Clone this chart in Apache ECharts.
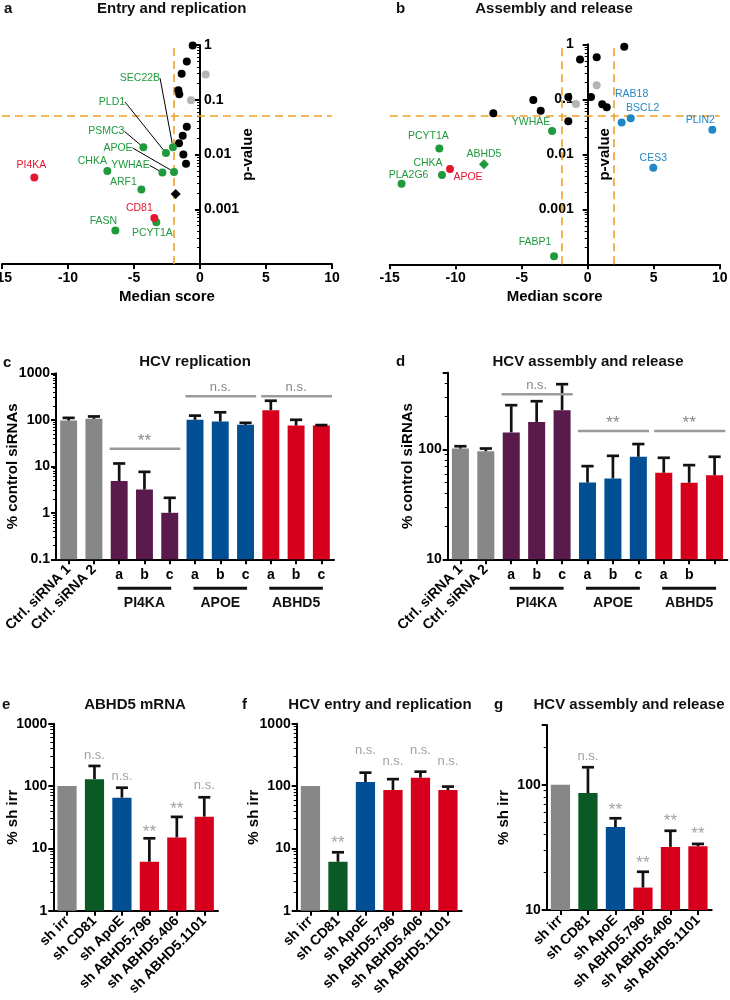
<!DOCTYPE html>
<html><head><meta charset="utf-8">
<script src="https://cdn.jsdelivr.net/npm/echarts@6/dist/echarts.min.js"></script>
<style>html,body{margin:0;padding:0;background:#fff}#chart{width:730px;height:1000px}</style>
</head><body><div id="chart"></div>
<script>
// ================= DATA =================
// Panel a: Entry and replication (median score vs p-value)
const aBlackX = [-0.55, -1.0, -1.39, -1.64, -1.57, -1.0, -1.31, -1.59, -1.26, -1.06];
const aBlackP = [0.98, 0.5, 0.30, 0.149, 0.126, 0.032, 0.022, 0.016, 0.010, 0.0068];
const aGrayX = [0.43, -0.68];
const aGrayP = [0.29, 0.098];
const aDiamondX = [-1.84];
const aDiamondP = [0.0019];
const aGreenGenes = ['SEC22B', 'PLD1', 'PSMC3', 'APOE', 'YWHAE', 'CHKA', 'ARF1', 'PCYT1A', 'FASN'];
const aGreenX = [-2.05, -2.58, -4.29, -1.97, -2.85, -7.02, -4.44, -3.31, -6.41];
const aGreenP = [0.0136, 0.0106, 0.0135, 0.0048, 0.0047, 0.0050, 0.0023, 0.00058, 0.00041];
const aRedGenes = ['PI4KA', 'CD81'];
const aRedX = [-12.55, -3.46];
const aRedP = [0.0038, 0.00069];
const scoreCutA = [-2];

// Panel b: Assembly and release
const bBlackX = [2.77, -0.58, 0.68, -4.12, -3.56, -7.15, -1.47, 0.25, 1.1, 1.44, -1.47];
const bBlackP = [0.9, 0.53, 0.58, 0.097, 0.062, 0.056, 0.11, 0.11, 0.081, 0.072, 0.04];
const bGrayX = [0.68, -0.89];
const bGrayP = [0.18, 0.082];
const bBlueGenes = ['RAB18', 'BSCL2', 'PLIN2', 'CES3'];
const bBlueX = [2.57, 3.26, 9.44, 4.97];
const bBlueP = [0.038, 0.045, 0.028, 0.0057];
const bGreenGenes = ['YWHAE', 'PCYT1A', 'CHKA', 'PLA2G6', 'FABP1'];
const bGreenX = [-2.7, -11.24, -11.04, -14.1, -2.55];
const bGreenP = [0.0265, 0.0128, 0.0042, 0.0029, 0.00014];
const bGreenDiamondGenes = ['ABHD5'];
const bGreenDiamondX = [-7.86];
const bGreenDiamondP = [0.0066];
const bRedGenes = ['APOE'];
const bRedX = [-10.43];
const bRedP = [0.0054];
const scoreCutB = [-2, 2];
const pCut = 0.05;

// Panel c: HCV replication (% control siRNAs)
const siCats = ['Ctrl. siRNA 1', 'Ctrl. siRNA 2', 'PI4KA a', 'PI4KA b', 'PI4KA c', 'APOE a', 'APOE b', 'APOE c', 'ABHD5 a', 'ABHD5 b', 'ABHD5 c'];
const cTickLabels = ['Ctrl. siRNA 1', 'Ctrl. siRNA 2', 'a', 'b', 'c', 'a', 'b', 'c', 'a', 'b', 'c'];
const cValues = [96.6, 105, 4.8, 3.17, 1.0, 100, 92, 78, 161, 75, 75];
const cErrTop = [110, 118, 11.5, 7.6, 2.1, 123, 145, 86, 257, 100, 77];
const groupNames = ['PI4KA', 'APOE', 'ABHD5'];
const groupStart = [2, 5, 8];
const groupEnd = [4, 7, 10];
const cSigText = ['**', 'n.s.', 'n.s.'];
const cSigLevel = [23.8, 322, 322];

// Panel d: HCV assembly and release
const dTickLabels = ['Ctrl. siRNA 1', 'Ctrl. siRNA 2', 'a', 'b', 'c', 'a', 'b', 'c', 'a', 'b', ''];
const dValues = [102, 96.5, 143, 178, 228, 50, 54.5, 85.8, 61.3, 49.8, 58.3];
const dErrTop = [107, 102, 253, 275, 393, 70.5, 87.5, 112, 84, 72, 85.8];
const dSigText = ['n.s.', '**', '**'];
const dSigLevel = [318, 147, 147];

// Panels e-g: shRNA (% sh irr)
const shCats = ['sh irr', 'sh CD81', 'sh ApoE', 'sh ABHD5.796', 'sh ABHD5.406', 'sh ABHD5.1101'];
const eValues = [100, 129, 65, 6.1, 15, 32.3];
const eErrTop = [null, 210, 94, 14.5, 32, 66];
const eSigText = ['', 'n.s.', 'n.s.', '**', '**', 'n.s.'];
const eSigLevel = [null, 308, 144, 18.3, 42.9, 101];
const fValues = [100, 6.1, 116, 86.5, 136, 86];
const fErrTop = [null, 8.65, 164, 129, 170, 98];
const fSigText = ['', '**', 'n.s.', 'n.s.', 'n.s.', 'n.s.'];
const fSigLevel = [null, 12.2, 370, 250, 370, 250];
const gValues = [100, 85.8, 45.9, 15.1, 31.9, 32.3];
const gErrTop = [null, 138, 54, 20.2, 42.9, 33.7];
const gSigText = ['', 'n.s.', '**', '**', '**', '**'];
const gSigLevel = [null, 167, 62.8, 23.8, 50.6, 40];

// ================= STYLE =================
const FONT = '"Liberation Sans", Arial, Helvetica, sans-serif';
const GRAY = '#878787', PURPLE = '#5a1a4c', BLUE = '#034f93', RED = '#d6001c', DKGREEN = '#0b5a26';
const SC_GREEN = '#1f9a3d', SC_RED = '#e3172f', SC_BLUE = '#1f88c4', SC_LGRAY = '#b4b4b4', ORANGE = '#f0a02a';
const SIG_GRAY = '#9a9a9a';
const siColors = [GRAY, GRAY, PURPLE, PURPLE, PURPLE, BLUE, BLUE, BLUE, RED, RED, RED];
const shColors = [GRAY, DKGREEN, BLUE, RED, RED, RED];

const labelOffsetA = {SEC22B: [-33, -69], PLD1: [-54, -51], PSMC3: [-37, -16], APOE: [-56, -24], YWHAE: [-32, -7],
  CHKA: [-15, -10], ARF1: [-18, -7], PCYT1A: [-4, 11], FASN: [-12, -9], PI4KA: [-3, -12], CD81: [-15, -10]};
const leaderA = ['SEC22B', 'PLD1', 'PSMC3', 'APOE', 'YWHAE'];
const labelOffsetB = {RAB18: [10, -28], BSCL2: [12, -10], PLIN2: [-12, -10], CES3: [0, -10], YWHAE: [-21, -9],
  PCYT1A: [-11, -12], CHKA: [-14, -12], PLA2G6: [7, -9], ABHD5: [0, -10], FABP1: [-19, -14], APOE: [18, 8]};

function logFmt(hide) {
  return function (v) {
    const l = Math.log10(v);
    if (Math.abs(l - Math.round(l)) > 1e-6) return '';
    const r = Math.round(l);
    if (hide && hide.indexOf(r) >= 0) return '';
    return r >= 0 ? String(Math.pow(10, r)) : Math.pow(10, r).toFixed(-r);
  };
}
const AXLINE = {show: true, onZero: false, lineStyle: {color: '#000', width: 2}};
const AXTICK = {show: true, length: 5, lineStyle: {color: '#000', width: 2}};
const MINOR = {show: true, splitNumber: 9, length: 3, lineStyle: {color: '#000', width: 1}};
const LBL = {color: '#000', fontFamily: FONT, fontWeight: 'bold', fontSize: 14};
const NAME = {color: '#000', fontFamily: FONT, fontWeight: 'bold', fontSize: 15};

function scat(idx, xs, ps, names, color, symbol, labelColor, offsets, leaders) {
  const s = {
    type: 'scatter', xAxisIndex: idx, yAxisIndex: idx, symbol: symbol,
    symbolSize: symbol === 'diamond' ? 10 : 8, silent: true, z: 5,
    itemStyle: {color: color, opacity: 1},
    data: xs.map(function (x, i) {
      const d = {value: [x, ps[i]]};
      if (names) {
        d.name = names[i];
        if (leaders && leaders.indexOf(names[i]) >= 0) d.labelLine = {show: true, lineStyle: {color: '#000', width: 1}};
      }
      return d;
    }),
    label: names ? {show: true, position: 'inside', formatter: '{b}', color: labelColor, fontSize: 10.5, fontFamily: FONT} : {show: false},
    labelLine: {show: false, lineStyle: {color: '#000', width: 1}}
  };
  if (names) {
    s.labelLayout = function (p) { const o = offsets[p.text]; return o ? {dx: o[0], dy: o[1]} : {}; };
  }
  return s;
}
function cutLines(xCuts) {
  return {
    silent: true, symbol: ['none', 'none'], label: {show: false}, animation: false,
    lineStyle: {color: ORANGE, type: [8, 5], width: 1.6},
    emphasis: {disabled: true},
    data: xCuts.map(function (x) { return {xAxis: x}; }).concat([{yAxis: pCut}])
  };
}
function bars(xi, yi, values, colors, w) {
  return {type: 'bar', xAxisIndex: xi, yAxisIndex: yi, barWidth: w, silent: true, z: 2, animation: false,
    data: values.map(function (v, i) { return {value: v, itemStyle: {color: colors[i]}}; })};
}
function errBars(xi, yi, values, errTop, n, capRatio) {
  const data = [];
  values.forEach(function (v, i) { if (errTop[i] != null) data.push([i, v, errTop[i]]); });
  return {type: 'custom', xAxisIndex: xi, yAxisIndex: yi, z: 3, silent: true, clip: false, animation: false,
    encode: {x: 0, y: [1, 2]}, data: data,
    renderItem: function (params, api) {
      const band = params.coordSys.width / n;
      const base = api.coord([api.value(0), api.value(1)]);
      const top = api.coord([api.value(0), api.value(2)]);
      const half = band * capRatio;
      const st = {stroke: '#111', lineWidth: 2.7};
      return {type: 'group', children: [
        {type: 'line', shape: {x1: base[0], y1: base[1], x2: top[0], y2: top[1] + 1}, style: st},
        {type: 'line', shape: {x1: top[0] - half, y1: top[1], x2: top[0] + half, y2: top[1]}, style: st}
      ]};
    }};
}
function sigBars(xi, yi, texts, levels, n) {
  return {type: 'custom', xAxisIndex: xi, yAxisIndex: yi, z: 4, silent: true, clip: false, animation: false,
    encode: {x: [0, 1], y: 2},
    data: groupStart.map(function (s, i) { return [s, groupEnd[i], levels[i], i]; }),
    renderItem: function (params, api) {
      const band = params.coordSys.width / n;
      const p1 = api.coord([api.value(0), api.value(2)]);
      const p2 = api.coord([api.value(1), api.value(2)]);
      const t = texts[api.value(3)];
      return {type: 'group', children: [
        {type: 'line', shape: {x1: p1[0] - 0.38 * band, y1: p1[1], x2: p2[0] + 0.42 * band, y2: p1[1]},
          style: {stroke: SIG_GRAY, lineWidth: 2.5}},
        {type: 'text', x: (p1[0] + p2[0]) / 2, y: p1[1] - (t === '**' ? -1 : 2),
          style: {text: t, fill: '#888', font: (t === '**' ? '17px ' : '13px ') + FONT, align: 'center', verticalAlign: 'bottom'}}
      ]};
    }};
}
function groupLines(xi, yi, yMin, n) {
  return {type: 'custom', xAxisIndex: xi, yAxisIndex: yi, z: 4, silent: true, clip: false, animation: false,
    encode: {x: [0, 1], y: 2},
    data: groupStart.map(function (s, i) { return [s, groupEnd[i], yMin, i]; }),
    renderItem: function (params, api) {
      const band = params.coordSys.width / n;
      const p1 = api.coord([api.value(0), api.value(2)]);
      const p2 = api.coord([api.value(1), api.value(2)]);
      return {type: 'group', children: [
        {type: 'line', shape: {x1: p1[0] - 0.06 * band, y1: p1[1] + 29, x2: p2[0] + 0.06 * band, y2: p1[1] + 29},
          style: {stroke: '#111', lineWidth: 3}},
        {type: 'text', x: (p1[0] + p2[0]) / 2, y: p1[1] + 44,
          style: {text: groupNames[api.value(3)], fill: '#111', font: 'bold 14px ' + FONT, align: 'center', verticalAlign: 'middle'}}
      ]};
    }};
}
function annot(xi, yi, texts, levels) {
  const data = [];
  texts.forEach(function (t, i) {
    if (t) data.push({value: [i, levels[i]], label: {formatter: t, fontSize: t === '**' ? 17 : 13}});
  });
  return {type: 'scatter', xAxisIndex: xi, yAxisIndex: yi, symbol: 'circle', symbolSize: 1, silent: true, z: 6, animation: false,
    itemStyle: {color: 'rgba(0,0,0,0)'}, data: data,
    label: {show: true, position: 'inside', color: '#8a8a8a', fontFamily: FONT, fontWeight: 'normal'}};
}

function scatterX(grid) {
  return {type: 'value', gridIndex: grid, min: -15, max: 10, interval: 5,
    axisLine: AXLINE, axisTick: AXTICK, axisLabel: Object.assign({margin: 7}, LBL), splitLine: {show: false},
    name: 'Median score', nameLocation: 'middle', nameGap: 25, nameTextStyle: NAME, nameMoveOverlap: false};
}
// the p-value axis sits on median score 0: offset = distance from grid left (score -15) to score 0
function scatterY(grid, inside, gap, margin) {
  return {type: 'log', gridIndex: grid, min: 0.0001, max: 1, position: 'left', offset: -198,
    axisLine: AXLINE, minorTick: MINOR,
    axisTick: AXTICK, axisLabel: Object.assign({inside: inside, margin: margin, formatter: logFmt([-4])}, LBL),
    splitLine: {show: false}, name: 'p-value', nameLocation: 'middle', nameGap: gap, nameTextStyle: NAME, nameMoveOverlap: false};
}
function catX(grid, cats, labels, show, rotate, margin) {
  return {type: 'category', gridIndex: grid, data: cats, position: 'bottom',
    axisLine: show ? {show: true, onZero: false, lineStyle: {color: '#000', width: 2}} : {show: false},
    axisTick: show ? {show: true, alignWithLabel: true, length: 5, lineStyle: {color: '#000', width: 2}} : {show: false},
    axisLabel: Object.assign({interval: 0, rotate: rotate, margin: margin,
      formatter: function (v, i) { return labels[i]; }}, LBL),
    splitLine: {show: false}};
}
function logY(grid, min, max, name, gap) {
  return {type: 'log', gridIndex: grid, min: min, max: max, startValue: min,
    axisLine: AXLINE, axisTick: AXTICK, minorTick: MINOR, axisLabel: Object.assign({margin: 6, formatter: logFmt()}, LBL),
    splitLine: {show: false}, name: name, nameLocation: 'middle', nameGap: gap, nameTextStyle: NAME, nameMoveOverlap: false};
}

const ctrlOnly = cTickLabels.map(function (t, i) { return i < 2 ? t : ''; });
const cLetters = cTickLabels.map(function (t, i) { return i < 2 ? '' : t; });
const dLetters = dTickLabels.map(function (t, i) { return i < 2 ? '' : t; });

function txt(t, x, y, size, align) {
  return {type: 'text', x: x, y: y, silent: true,
    style: {text: t, fill: '#111', font: 'bold ' + size + 'px ' + FONT, align: align || 'center', verticalAlign: 'middle'}};
}

const option = {
  animation: false,
  backgroundColor: '#fff',
  grid: [
    {left: 2, top: 45, width: 330, height: 219, outerBoundsMode: 'none', containLabel: false},
    {left: 389.7, top: 44.3, width: 330, height: 220, outerBoundsMode: 'none', containLabel: false},
    {left: 56, top: 373.3, width: 278, height: 186, outerBoundsMode: 'none', containLabel: false},
    {left: 447.7, top: 372.7, width: 279.6, height: 186.6, outerBoundsMode: 'none', containLabel: false},
    {left: 53.3, top: 723.7, width: 164.7, height: 187, outerBoundsMode: 'none', containLabel: false},
    {left: 296.7, top: 723.7, width: 165, height: 187, outerBoundsMode: 'none', containLabel: false},
    {left: 546.7, top: 725, width: 165, height: 185, outerBoundsMode: 'none', containLabel: false}
  ],
  xAxis: [
    scatterX(0), scatterX(1),
    catX(2, siCats, cLetters, true, 0, 9), catX(2, siCats, ctrlOnly, false, 45, 8),
    catX(3, siCats, dLetters, true, 0, 9), catX(3, siCats, ctrlOnly, false, 45, 8),
    catX(4, shCats, shCats, true, 45, 8), catX(5, shCats, shCats, true, 45, 8), catX(6, shCats, shCats, true, 45, 8)
  ],
  yAxis: [
    scatterY(0, true, -55, 4), scatterY(1, false, -25, 14),
    logY(2, 0.1, 1000, '% control siRNAs', 35.5),
    logY(3, 10, 500, '% control siRNAs', 32.7),
    logY(4, 1, 1000, '% sh irr', 33),
    logY(5, 1, 1000, '% sh irr', 35),
    logY(6, 10, 300, '% sh irr', 35)
  ],
  series: [
    // panel a
    Object.assign(scat(0, aBlackX, aBlackP, null, '#000', 'circle'), {markLine: cutLines(scoreCutA)}),
    scat(0, aGrayX, aGrayP, null, SC_LGRAY, 'circle'),
    scat(0, aDiamondX, aDiamondP, null, '#000', 'diamond'),
    scat(0, aGreenX, aGreenP, aGreenGenes, SC_GREEN, 'circle', SC_GREEN, labelOffsetA, leaderA),
    scat(0, aRedX, aRedP, aRedGenes, SC_RED, 'circle', SC_RED, labelOffsetA, []),
    // panel b
    Object.assign(scat(1, bBlackX, bBlackP, null, '#000', 'circle'), {markLine: cutLines(scoreCutB)}),
    scat(1, bGrayX, bGrayP, null, SC_LGRAY, 'circle'),
    scat(1, bBlueX, bBlueP, bBlueGenes, SC_BLUE, 'circle', SC_BLUE, labelOffsetB, []),
    scat(1, bGreenX, bGreenP, bGreenGenes, SC_GREEN, 'circle', SC_GREEN, labelOffsetB, []),
    scat(1, bGreenDiamondX, bGreenDiamondP, bGreenDiamondGenes, SC_GREEN, 'diamond', SC_GREEN, labelOffsetB, []),
    scat(1, bRedX, bRedP, bRedGenes, SC_RED, 'circle', SC_RED, labelOffsetB, []),
    // panel c
    bars(2, 2, cValues, siColors, '67%'),
    errBars(2, 2, cValues, cErrTop, 11, 0.24),
    sigBars(2, 2, cSigText, cSigLevel, 11),
    groupLines(2, 2, 0.1, 11),
    // panel d
    bars(4, 3, dValues, siColors, '67%'),
    errBars(4, 3, dValues, dErrTop, 11, 0.24),
    sigBars(4, 3, dSigText, dSigLevel, 11),
    groupLines(4, 3, 10, 11),
    // panels e-g
    bars(6, 4, eValues, shColors, '70%'),
    errBars(6, 4, eValues, eErrTop, 6, 0.22),
    annot(6, 4, eSigText, eSigLevel),
    bars(7, 5, fValues, shColors, '70%'),
    errBars(7, 5, fValues, fErrTop, 6, 0.22),
    annot(7, 5, fSigText, fSigLevel),
    bars(8, 6, gValues, shColors, '70%'),
    errBars(8, 6, gValues, gErrTop, 6, 0.22),
    annot(8, 6, gSigText, gSigLevel)
  ],
  graphic: [
    txt('a', 4, 9, 15, 'left'), txt('Entry and replication', 171.7, 9, 15),
    txt('b', 396, 9, 15, 'left'), txt('Assembly and release', 554, 9, 15),
    txt('c', 3, 363, 15, 'left'), txt('HCV replication', 195, 362, 15),
    txt('d', 396, 362, 15, 'left'), txt('HCV assembly and release', 588, 362, 15),
    txt('e', 2, 705, 15, 'left'), txt('ABHD5 mRNA', 135, 705, 15),
    txt('f', 242, 705, 15, 'left'), txt('HCV entry and replication', 380, 705, 15),
    txt('g', 494, 705, 15, 'left'), txt('HCV assembly and release', 629, 705, 15)
  ]
};
const chart = echarts.init(document.getElementById('chart'), null, {renderer: 'canvas'});
chart.setOption(option);
</script></body></html>
